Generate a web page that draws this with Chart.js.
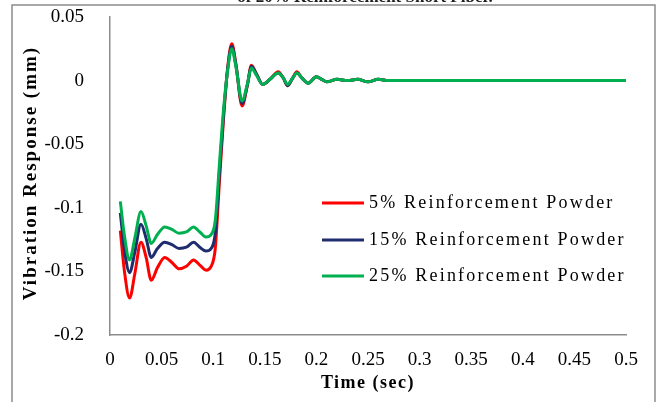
<!DOCTYPE html>
<html lang="en">
<head>
    <meta charset="UTF-8">
    <title>Vibration Response</title>
    <script src="https://cdn.jsdelivr.net/npm/chart.js"></script>
    <style>
        body { margin: 0; background: #fff; }
    </style>
</head>
<body>
    <canvas id="vibChart" width="659" height="402"></canvas>

    <script>
        // time axis (sec), shared by all three series
        const timeSec = [0.010, 0.014, 0.019, 0.024, 0.030, 0.035, 0.040, 0.046, 0.053, 0.060,
            0.067, 0.074, 0.081, 0.087, 0.093, 0.098, 0.102, 0.106, 0.110, 0.114,
            0.118, 0.122, 0.128, 0.133, 0.137, 0.142, 0.148, 0.155, 0.163, 0.168,
            0.172, 0.177, 0.181, 0.186, 0.192, 0.200, 0.205, 0.210, 0.220, 0.230,
            0.240, 0.250, 0.260, 0.270, 0.280, 0.300, 0.350, 0.400, 0.450, 0.500];

        const powder5 = [-0.118, -0.150, -0.171, -0.152, -0.127, -0.139, -0.157, -0.147, -0.139, -0.143,
            -0.148, -0.146, -0.141, -0.145, -0.149, -0.146, -0.132, -0.080, -0.030, 0.010,
            0.029, 0.013, -0.020, -0.004, 0.012, 0.005, -0.003, 0.001, 0.007, 0.002,
            -0.004, 0.002, 0.007, 0.002, -0.002, 0.003, 0.001, -0.001, 0.001, 0.000,
            0.001, -0.001, 0.001, 0.000, 0.000, 0, 0, 0, 0, 0];

        const powder15 = [-0.104, -0.133, -0.151, -0.135, -0.113, -0.124, -0.139, -0.132, -0.127, -0.129,
            -0.132, -0.131, -0.127, -0.131, -0.134, -0.132, -0.120, -0.073, -0.027, 0.009,
            0.027, 0.012, -0.018, -0.004, 0.011, 0.005, -0.003, 0.001, 0.006, 0.002,
            -0.004, 0.002, 0.006, 0.002, -0.002, 0.003, 0.001, -0.001, 0.001, 0.000,
            0.001, -0.001, 0.001, 0, 0, 0, 0, 0, 0, 0];

        const powder25 = [-0.095, -0.122, -0.141, -0.124, -0.103, -0.114, -0.128, -0.121, -0.115, -0.117,
            -0.120, -0.119, -0.115, -0.119, -0.123, -0.121, -0.110, -0.066, -0.023, 0.008,
            0.025, 0.011, -0.016, -0.003, 0.010, 0.004, -0.003, 0.001, 0.006, 0.002,
            -0.003, 0.002, 0.006, 0.002, -0.002, 0.003, 0.001, -0.001, 0.001, 0,
            0.001, -0.001, 0.001, 0, 0, 0, 0, 0, 0, 0];

        const seriesNames = ['5% Reinforcement Powder', '15% Reinforcement Powder', '25% Reinforcement Powder'];
        const xTickLabels = ['0', '0.05', '0.1', '0.15', '0.2', '0.25', '0.3', '0.35', '0.4', '0.45', '0.5'];
        const yTickLabels = ['-0.2', '-0.15', '-0.1', '-0.05', '0', '0.05'];

        const colors = ['#ff0000', '#1f2d6e', '#00b050'];
        const serif = "'Liberation Serif', 'Times New Roman', serif";

        function toPoints(values) {
            return timeSec.map((t, i) => ({ x: t, y: values[i] }));
        }

        // white page, grey frame, clipped caption at the top
        const framePlugin = {
            id: 'frame',
            beforeDraw(chart) {
                const ctx = chart.ctx;
                ctx.save();
                ctx.fillStyle = '#fff';
                ctx.fillRect(0, 0, chart.width, chart.height);
                ctx.strokeStyle = '#8c8c8c';
                ctx.lineWidth = 1.5;
                ctx.strokeRect(12, 5, 643, 402);
                ctx.fillStyle = '#222';
                ctx.font = 'bold 17px ' + serif;
                ctx.textAlign = 'center';
                ctx.textBaseline = 'alphabetic';
                ctx.fillText('of 20% Reinforcement Short Fiber.', 365, 2);
                ctx.restore();
            }
        };

        // axis titles and the in-plot legend
        const textPlugin = {
            id: 'texts',
            afterDraw(chart) {
                const ctx = chart.ctx;
                const area = chart.chartArea;
                ctx.save();
                ctx.fillStyle = '#000';
                ctx.textAlign = 'center';
                ctx.textBaseline = 'middle';

                ctx.font = 'bold 18px ' + serif;
                ctx.letterSpacing = '1.5px';
                ctx.fillText('Time (sec)', 368, 383);

                ctx.save();
                ctx.translate(31, (area.top + area.bottom) / 2 - 3);
                ctx.rotate(-Math.PI / 2);
                ctx.font = 'bold 19px ' + serif;
                ctx.letterSpacing = '2px';
                ctx.fillText('Vibration Response (mm)', 0, 0);
                ctx.restore();

                const rows = [203, 240, 276];
                ctx.font = '18px ' + serif;
                ctx.letterSpacing = '2.2px';
                ctx.textAlign = 'left';
                chart.data.datasets.forEach((ds, i) => {
                    ctx.strokeStyle = ds.borderColor;
                    ctx.lineWidth = 3;
                    ctx.beginPath();
                    ctx.moveTo(322, rows[i]);
                    ctx.lineTo(364, rows[i]);
                    ctx.stroke();
                    ctx.fillStyle = '#000';
                    ctx.fillText(ds.label, 369, rows[i]);
                });
                ctx.restore();
            }
        };

        const ctx = document.getElementById('vibChart').getContext('2d');
        new Chart(ctx, {
            type: 'line',
            data: {
                datasets: [
                    { label: seriesNames[0], data: toPoints(powder5), borderColor: colors[0], order: 3 },
                    { label: seriesNames[1], data: toPoints(powder15), borderColor: colors[1], order: 2 },
                    { label: seriesNames[2], data: toPoints(powder25), borderColor: colors[2], order: 1 }
                ]
            },
            options: {
                responsive: false,
                animation: false,
                layout: { padding: { left: 0, right: 33, top: 17, bottom: 0 } },
                elements: {
                    line: { borderWidth: 3, cubicInterpolationMode: 'monotone', fill: false },
                    point: { radius: 0 }
                },
                plugins: {
                    legend: { display: false },
                    tooltip: { enabled: false }
                },
                scales: {
                    x: {
                        type: 'linear',
                        min: 0,
                        max: 0.5,
                        grid: { display: false },
                        border: { display: true, color: '#8c8c8c', width: 1.5 },
                        ticks: {
                            stepSize: 0.05,
                            maxRotation: 0,
                            autoSkip: false,
                            padding: 6,
                            color: '#000',
                            font: { family: serif, size: 19 },
                            callback: (v, i) => xTickLabels[i]
                        },
                        afterFit(scale) {
                            scale.height = 67;
                            scale.paddingLeft = 0;
                            scale.paddingRight = 0;
                        }
                    },
                    y: {
                        min: -0.2,
                        max: 0.05,
                        grid: { display: false },
                        border: { display: true, color: '#8c8c8c', width: 1.5 },
                        ticks: {
                            stepSize: 0.05,
                            padding: 18,
                            color: '#000',
                            font: { family: serif, size: 19 },
                            callback: (v, i) => yTickLabels[i]
                        },
                        afterFit(scale) {
                            scale.width = 110;
                            scale.paddingTop = 0;
                            scale.paddingBottom = 0;
                        }
                    }
                }
            },
            plugins: [framePlugin, textPlugin]
        });
    </script>
</body>
</html>
